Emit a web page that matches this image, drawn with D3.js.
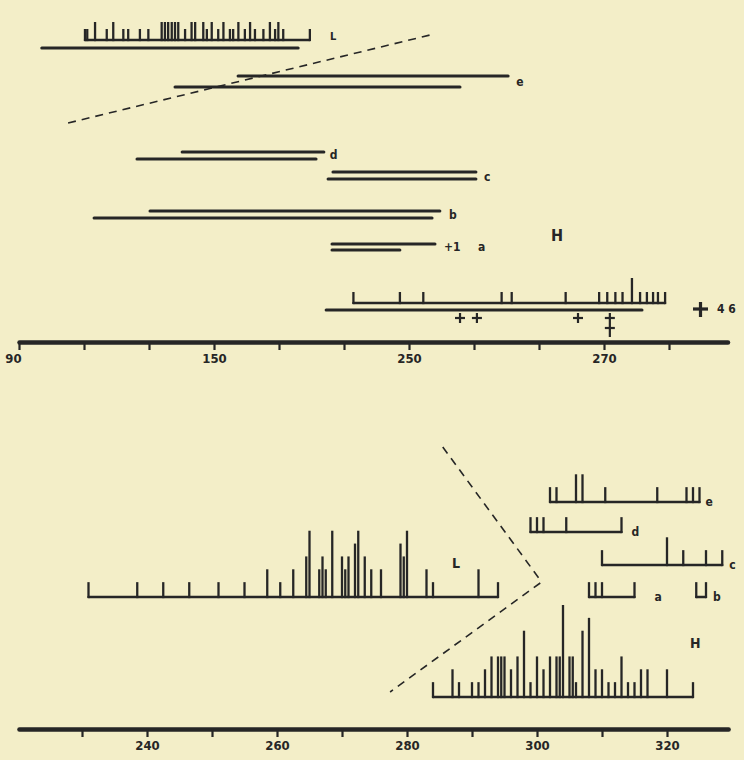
<!DOCTYPE html>
<html><head><meta charset="utf-8">
<script src="https://cdn.jsdelivr.net/npm/d3@7"></script>
<style>html,body{margin:0;padding:0;background:#f3eec8;} svg{display:block}</style>
</head><body><svg id="c" width="744" height="760"></svg>
<script>
// ---------------- DATA ----------------
// Upper diagram (scale 90..290)
const topTickValues = [90,110,130,150,170,190,210,230,250,270,290];
const topLabelAt    = [90,150,210,270];
const topLabelText  = ["90","150","250","270"];
const topL_pos = [110.3,111,113.4,117,119,122.1,123.6,127.2,129.8,133.9,134.9,135.9,137,138,139,141.1,143.1,144.2,146.7,147.8,149.3,151.3,152.9,154.9,155.9,157.5,159.5,161.1,162.6,165.2,167.2,168.8,169.8,171.3,179.5];
const topL_cnt = [1,1,2,1,2,1,1,1,1,2,2,2,2,2,2,1,2,2,2,1,2,1,2,1,1,2,1,2,1,1,2,1,2,1,1];
const topL_range = [97,175.9];
const topH_pos = [192.9,207.2,214.4,238.5,241.6,258.2,268.5,271,273.5,275.7,278.6,281.1,283.2,285.1,286.6,288.8];
const topH_cnt = [1,1,1,1,1,1,1,1,1,1,3,1,1,1,1,1];
const topH_range = [184.5,281.7];
const topCross_pos = [225.7,230.9,262,271.8];
const topCross_n   = [1,1,1,2];
const rowNames  = ["e","d","c","b","a"];
const rowUpper  = [[157.4,240.5],[140.2,183.8],[186.6,230.6],[130.3,219.5],[186.3,218]];
const rowLower  = [[138,225.7],[126.3,181.4],[185.1,230.6],[113.1,217.1],[186.3,207.2]];
const topDash = [105.1,216.5];

// Lower diagram (scale 230..320)
const botTickValues = [230,240,250,260,270,280,290,300,310,320];
const botLabelAt    = [240,260,280,300,320];
const botLabelText  = ["240","260","280","300","320"];
const botL_pos = [231,238.5,242.5,246.5,251,255,258.5,260.5,262.5,264.5,265,266.5,267,267.5,268.5,270,270.5,271,272,272.5,273.5,274.5,276,279,279.5,280,283,284,291,294];
const botL_cnt = [1,1,1,1,1,1,2,1,2,3,5,2,3,2,5,3,2,3,4,5,3,2,2,4,3,5,2,1,2,1];
const botH_pos = [284,287,288,290,291,292,293,294,294.5,295,296,297,298,299,300,301,302,303,303.5,304,305,305.5,306,307,308,309,310,311,312,313,314,315,316,317,320,324];
const botH_cnt = [1,2,1,1,1,2,3,3,3,3,2,3,5,1,3,2,3,3,3,7,3,3,1,5,6,2,2,1,1,3,1,1,2,2,2,1];
const botE_pos = [302,303,306,307,310.5,318.5,323,324,325];
const botE_cnt = [1,1,2,2,1,1,1,1,1];
const botD_pos = [299,300,301,304.5,313];
const botD_cnt = [1,1,1,1,1];
const botC_pos = [310,320,322.5,326,328.5];
const botC_cnt = [1,2,1,1,1];
const botA_pos = [308,309,310,315];
const botA_cnt = [1,1,1,1];
const botB_pos = [324.5,326];
const botB_cnt = [1,1];
const botDash = [285.5,300.5,277.4];

// ---------------- DRAW ----------------
const ink = "#262626";
const svg = d3.select("#c");
svg.append("rect").attr("width",744).attr("height",760).attr("fill","#f3eec8");
const font = "'DejaVu Sans Condensed','Liberation Sans',Arial,sans-serif";

const xTop = d3.scaleLinear().domain([90,270]).range([19,604]);
const xBot = d3.scaleLinear().domain([240,320]).range([147,667]);
const hTop = d3.scaleLinear().domain([0,3]).range([4,25]);
const hBot = d3.scaleLinear().domain([0,7]).range([2,92]);

const Y = {L:40, Llow:48, rowsU:[76,152,172,211,244], rowsL:[87,159,179,218,250], H:303, Hlow:310, axis:342};
const YB = {e:502, d:532, c:565, a:597, L:597, H:697, axis:729};

function seg(g, x1, x2, y, w){
  g.append("line").attr("x1",x1).attr("x2",x2).attr("y1",y).attr("y2",y)
    .attr("stroke",ink).attr("stroke-width",w).attr("stroke-linecap","round");
}
function hist(g, x, h, pos, cnt, y0, w){
  seg(g, x(pos[0]), x(pos[pos.length-1]), y0, w);
  g.selectAll(null).data(pos).join("line")
    .attr("x1",d=>x(d)).attr("x2",d=>x(d))
    .attr("y1",y0+w/2).attr("y2",(d,i)=>y0-h(cnt[i]))
    .attr("stroke",ink).attr("stroke-width",w);
}
function label(g, txt, x, y, size, anchor){
  g.append("text").attr("x",x).attr("y",y).text(txt)
    .attr("font-family",font).attr("font-weight","bold").attr("font-size",size)
    .attr("fill",ink).attr("text-anchor",anchor||"start");
}
function cross(g, x, y, n, hw){
  const vlen = 10 + (n-1)*10;
  g.append("line").attr("x1",x).attr("x2",x).attr("y1",y-5).attr("y2",y-5+vlen+ (n>1?4:0))
    .attr("stroke",ink).attr("stroke-width",2.2);
  for(let k=0;k<n;k++){
    g.append("line").attr("x1",x-hw).attr("x2",x+hw).attr("y1",y+k*10).attr("y2",y+k*10)
      .attr("stroke",ink).attr("stroke-width",2.2);
  }
}

// ---- upper diagram ----
const gt = svg.append("g");
hist(gt, xTop, hTop, topL_pos, topL_cnt, Y.L, 2.3);
seg(gt, xTop(topL_range[0]), xTop(topL_range[1]), Y.Llow, 3);
label(gt, "L", 330, 40, 11);

rowNames.forEach((nm,i)=>{
  seg(gt, xTop(rowUpper[i][0]), xTop(rowUpper[i][1]), Y.rowsU[i], 3);
  seg(gt, xTop(rowLower[i][0]), xTop(rowLower[i][1]), Y.rowsL[i], 3);
});
label(gt, "e", xTop(rowUpper[0][1])+8, 86, 12);
label(gt, "d", xTop(rowUpper[1][1])+6, 159, 12);
label(gt, "c", xTop(rowUpper[2][1])+8, 181, 12);
label(gt, "b", xTop(rowUpper[3][1])+9, 219, 12);
label(gt, "+1", xTop(rowUpper[4][1])+9, 251, 12);
label(gt, "a", xTop(rowUpper[4][1])+43, 251, 12);
label(gt, "H", 551, 241, 16);

hist(gt, xTop, hTop, topH_pos, topH_cnt, Y.H, 2.3);
seg(gt, xTop(topH_range[0]), xTop(topH_range[1]), Y.Hlow, 3);
topCross_pos.forEach((p,i)=>cross(gt, xTop(p), 318, topCross_n[i], 5));
// big cross and count
gt.append("line").attr("x1",693).attr("x2",708).attr("y1",309).attr("y2",309).attr("stroke",ink).attr("stroke-width",3.2);
gt.append("line").attr("x1",700.5).attr("x2",700.5).attr("y1",302).attr("y2",317).attr("stroke",ink).attr("stroke-width",3.2);
label(gt, "4 6", 717, 313, 12);

gt.append("line")
  .attr("x1",xTop(topDash[0])).attr("y1",123).attr("x2",xTop(topDash[1])).attr("y2",35)
  .attr("stroke",ink).attr("stroke-width",1.6).attr("stroke-dasharray","8,6");

// upper axis
const xTopAxis = xTop.copy().domain([90,308]).range([xTop(90),xTop(308)]);
const ga = svg.append("g").attr("transform",`translate(0,${Y.axis})`)
  .call(d3.axisBottom(xTopAxis).tickValues(topTickValues).tickSize(8).tickSizeOuter(0)
        .tickFormat(d=>{const k=topLabelAt.indexOf(d); return k>=0?topLabelText[k]:"";}));
ga.select(".domain").attr("stroke",ink).attr("stroke-width",4.5).attr("stroke-linecap","round");
ga.selectAll(".tick line").attr("stroke",ink).attr("stroke-width",2.2);
ga.selectAll(".tick text").attr("font-family",font).attr("font-weight","bold").attr("font-size",13)
  .attr("fill",ink).attr("dy","0.9em").attr("y",9);
ga.selectAll(".tick text").filter(d=>d===90).attr("dx",-6);

// ---- lower diagram ----
const gb = svg.append("g");
hist(gb, xBot, hBot, botL_pos, botL_cnt, YB.L, 2.3);
hist(gb, xBot, hBot, botH_pos, botH_cnt, YB.H, 2.3);
hist(gb, xBot, hBot, botE_pos, botE_cnt, YB.e, 2.3);
hist(gb, xBot, hBot, botD_pos, botD_cnt, YB.d, 2.3);
hist(gb, xBot, hBot, botC_pos, botC_cnt, YB.c, 2.3);
hist(gb, xBot, hBot, botA_pos, botA_cnt, YB.a, 2.3);
hist(gb, xBot, hBot, botB_pos, botB_cnt, YB.a, 2.3);
label(gb, "e", xBot(botE_pos[botE_pos.length-1])+6, 506, 12);
label(gb, "d", xBot(botD_pos[botD_pos.length-1])+10, 536, 12);
label(gb, "c", xBot(botC_pos[botC_pos.length-1])+7, 569, 12);
label(gb, "a", xBot(botA_pos[botA_pos.length-1])+20, 601, 12);
label(gb, "b", xBot(botB_pos[botB_pos.length-1])+7, 601, 12);
label(gb, "L", 452, 568, 14);
label(gb, "H", 690, 648, 14);

gb.append("line").attr("x1",xBot(botDash[0])).attr("y1",447).attr("x2",xBot(botDash[1])).attr("y2",580)
  .attr("stroke",ink).attr("stroke-width",1.6).attr("stroke-dasharray","8,6");
gb.append("line").attr("x1",xBot(botDash[1])).attr("y1",583).attr("x2",xBot(botDash[2])).attr("y2",692)
  .attr("stroke",ink).attr("stroke-width",1.6).attr("stroke-dasharray","8,6");

const xBotAxis = xBot.copy().domain([220.3,329.4]).range([xBot(220.3),xBot(329.4)]);
const gba = svg.append("g").attr("transform",`translate(0,${YB.axis})`)
  .call(d3.axisBottom(xBotAxis).tickValues(botTickValues).tickSize(8).tickSizeOuter(0)
        .tickFormat(d=>{const k=botLabelAt.indexOf(d); return k>=0?botLabelText[k]:"";}));
gba.select(".domain").attr("stroke",ink).attr("stroke-width",4.5).attr("stroke-linecap","round");
gba.selectAll(".tick line").attr("stroke",ink).attr("stroke-width",2.2);
gba.selectAll(".tick text").attr("font-family",font).attr("font-weight","bold").attr("font-size",13)
  .attr("fill",ink).attr("dy","0.9em").attr("y",9);
</script></body></html>
